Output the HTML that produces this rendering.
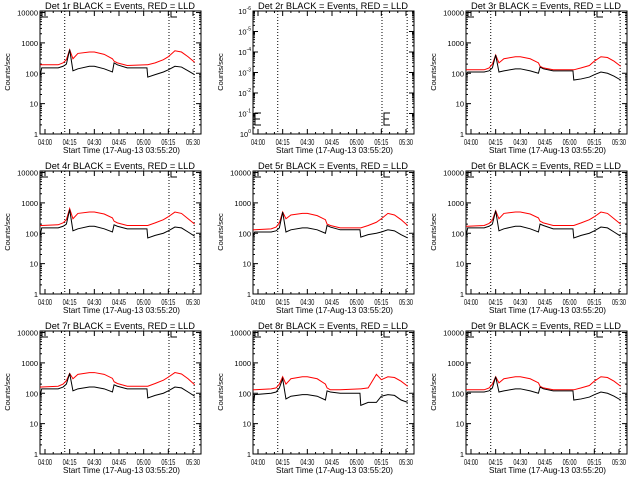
<!DOCTYPE html>
<html><head><meta charset="utf-8"><style>
html,body{margin:0;padding:0;background:#fff;width:640px;height:480px;overflow:hidden}
svg text{font-family:"Liberation Sans",sans-serif;fill:#000}
</style></head><body>
<svg id="chart" width="640" height="480" viewBox="0 0 640 480"></svg>
<script>
const times = [-3,-2,8,11,13,15,17,20,27,30,36,41,42,44,50,62,62.5,67,72,75,79,83,87,91];
const detNames = ["1r","2r","3r","4r","5r","6r","7r","8r","9r"];
const blackSeries = [
 [80,150,150,170,200,600,120,140,170,170,140,110,220,190,150,150,75,90,110,130,170,160,120,90],
 null,
 [90,110,110,120,150,400,110,120,140,140,120,100,160,140,120,120,60,65,75,90,110,100,80,60],
 [80,150,150,170,200,600,120,140,170,170,140,110,190,170,140,140,70,85,100,120,160,150,110,80],
 [80,110,110,120,150,500,110,130,150,150,130,100,180,160,130,130,75,90,100,110,130,120,90,70],
 [80,150,150,170,200,550,120,140,170,170,140,110,200,180,140,140,70,85,100,120,160,150,110,80],
 [80,140,140,160,200,450,120,140,160,160,140,110,190,170,140,140,70,85,100,120,160,150,110,80],
 [50,90,100,110,150,300,65,80,90,90,80,60,120,110,100,100,40,50,50,80,90,85,60,50],
 [90,110,110,120,150,350,110,120,140,140,120,100,160,140,120,120,60,65,75,90,110,100,80,60]
];
const redSeries = [
 [190,190,190,220,280,600,300,450,500,500,420,300,250,220,180,190,190,220,280,350,550,500,350,230],
 null,
 [130,130,130,150,200,400,220,300,350,350,300,220,170,150,130,130,130,150,180,250,350,330,250,170],
 [180,180,190,220,280,650,300,450,500,500,430,320,250,220,180,180,180,220,280,350,500,450,300,200],
 [130,130,140,160,220,500,300,400,450,450,380,280,200,180,150,150,150,180,230,300,450,400,280,180],
 [170,170,180,210,270,550,300,450,500,500,430,320,250,220,180,180,180,220,280,350,500,450,300,200],
 [160,160,170,200,260,450,300,420,480,480,420,310,240,210,170,170,170,210,270,340,480,430,300,190],
 [130,130,140,150,200,350,200,300,350,350,300,200,150,130,130,140,140,150,420,280,350,330,250,170],
 [130,130,130,150,200,350,220,300,350,350,300,220,170,150,130,130,130,150,180,250,350,330,250,170]
];
const xTickMinutes = [0,15,30,45,60,75,90];
const xTickLabels = ["04:00","04:15","04:30","04:45","05:00","05:15","05:30"];
const yTickLabels = ["1","10","100","1000","10000"];
const dottedMinutes = [12,75.4,90.7];

const svg = document.getElementById('chart');
const NS = 'http://www.w3.org/2000/svg';
function mk(tag, attrs, parent){const e=document.createElementNS(NS,tag);for(const k in attrs)e.setAttribute(k,attrs[k]);parent.appendChild(e);return e;}

detNames.forEach((nm,i)=>{
  const ox = (i%3)*213, oy = Math.floor(i/3)*160;
  const g = mk('g',{transform:`translate(${ox},${oy})`},svg);
  
  
  const L=40,R=201,T=11,B=134;
  const xs = t => 45 + t*148/90;
  const empty = blackSeries[i]===null;
  const dmin = empty? -6:0, dmax = empty?0:4.05;
  const ys = v => B - (Math.log10(v)-dmin)/(dmax-dmin)*(B-T);
  const ysd = d => B - (d-dmin)/(dmax-dmin)*(B-T);
  const tt = mk('text',{x:45,y:9,'font-size':9,textLength:150,lengthAdjust:'spacingAndGlyphs'},g);
  tt.textContent = `Det ${nm} BLACK = Events, RED = LLD`;
  
  
  const box = mk('rect',{x:L,y:T,width:R-L,height:B-T,fill:'none',stroke:'#000','stroke-width':1},g);
  
  
  for(let d=dmin; d<=Math.floor(dmax); d++){
    const y=ysd(d);
    mk('line',{x1:L,x2:L+5,y1:y,y2:y,stroke:'#000'},g);
    mk('line',{x1:R,x2:R-5,y1:y,y2:y,stroke:'#000'},g);
    const lab = mk('text',{x:L-2,y:y+3,'font-size':7.5,'text-anchor':'end'},g);
    
    
    if(empty){ const e=-6-d; lab.innerHTML = `10<tspan dy="-4" font-size="5">${e}</tspan>`; }
    else lab.textContent = yTickLabels[d];
    if(d<dmax){
      for(let m=2;m<10;m++){const v=d+Math.log10(m); if(v>dmax)break; const yy=ysd(v);
        mk('line',{x1:L,x2:L+2,y1:yy,y2:yy,stroke:'#000'},g);
        mk('line',{x1:R,x2:R-2,y1:yy,y2:yy,stroke:'#000'},g);}
    }
  }
  xTickMinutes.forEach((t,k)=>{
    const x=xs(t);
    mk('line',{x1:x,x2:x,y1:B,y2:B-5,stroke:'#000'},g);
    mk('line',{x1:x,x2:x,y1:T,y2:T+5,stroke:'#000'},g);
    const lab=mk('text',{x:x-7,y:B+11,'font-size':8.5,textLength:14,lengthAdjust:'spacingAndGlyphs'},g);
    lab.textContent=xTickLabels[k];
    
    
  });
  for(let t=-0;t<=94;t+=5){ if(t%15===0)continue; const x=xs(t);
    mk('line',{x1:x,x2:x,y1:B,y2:B-2,stroke:'#000'},g); mk('line',{x1:x,x2:x,y1:T,y2:T+2,stroke:'#000'},g);}
  const xt=mk('text',{x:63,y:153,'font-size':8.5,textLength:117,lengthAdjust:'spacingAndGlyphs'},g);
  xt.textContent='Start Time (17-Aug-13 03:55:20)';
  
  
  const yt=mk('text',{x:10,y:72,'font-size':7.5,'text-anchor':'middle',transform:'rotate(-90 10 72)'},g);
  yt.textContent='Counts/sec';
  
  
  dottedMinutes.forEach(t=>{
    const l=mk('line',{x1:xs(t),x2:xs(t),y1:T,y2:B,stroke:'#000','stroke-dasharray':'1,2'},g);
    
    
  });
  if(empty){
    [42,171].forEach(x=>{
      const p=mk('path',{d:`M${x+6},113 H${x} V125 H${x+6} M${x},119 H${x+5}`,fill:'none',stroke:'#000'},g);
      
      
    });
  } else {
    [42,171].forEach(x=>{
      const p=mk('path',{d:`M${x},${T} V${T+6} H${x+6}`,fill:'none',stroke:'#000'},g);
      
      
    });
  }
  if(!empty){
    const step = arr => { let d=''; arr.forEach((v,k)=>{ const x=xs(times[k]), y=ys(v); d += (k===0?`M${x},${y}`:`L${x},${y}`); }); return d; };
    const r=mk('path',{d:step(redSeries[i]),fill:'none',stroke:'#ff0000','stroke-width':1},g);
    
    
    const b=mk('path',{d:step(blackSeries[i]),fill:'none',stroke:'#000','stroke-width':1},g);
    
    
  }
});
</script>
</body></html>
